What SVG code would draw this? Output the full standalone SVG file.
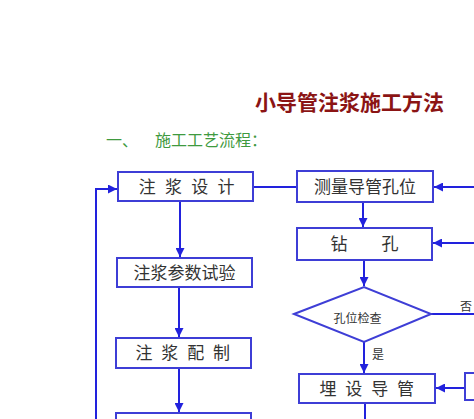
<svg xmlns="http://www.w3.org/2000/svg" width="474" height="419" viewBox="0 0 474 419">
<defs>
<style>
.box{fill:#fff;stroke:#3e3ed6;stroke-width:2}
.ln{fill:none;stroke:#2222dd;stroke-width:2}
.t{font-family:"Noto Sans CJK SC","Noto Sans",sans-serif;font-size:17px;fill:#333;text-anchor:middle}
.s{font-family:"Noto Sans CJK SC","Noto Sans",sans-serif;font-size:12px;fill:#333}
</style>
<marker id="ah" viewBox="0 0 10 10" refX="10" refY="5" markerWidth="4.5" markerHeight="4.5" orient="auto" markerUnits="strokeWidth">
<path d="M0,0 L10,5 L0,10 z" fill="#2222dd"/>
</marker>
</defs>
<rect width="474" height="419" fill="#fff"/>
<text x="255" y="110" font-family="'Noto Sans CJK SC',sans-serif" font-size="21" font-weight="bold" fill="#8b1414">小导管注浆施工方法</text>
<text x="106" y="146" font-family="'Noto Sans CJK SC',sans-serif" font-size="16" fill="#3f9a3f">一、</text>
<text x="155" y="146" font-family="'Noto Sans CJK SC',sans-serif" font-size="16" fill="#3f9a3f">施工工艺流程：</text>
<g id="connectors">
<line class="ln" x1="253" y1="187" x2="297" y2="187"/>
<line class="ln" x1="474" y1="187" x2="434" y2="187" marker-end="url(#ah)"/>
<line class="ln" x1="180" y1="201" x2="180" y2="257" marker-end="url(#ah)"/>
<line class="ln" x1="179" y1="287" x2="179" y2="337" marker-end="url(#ah)"/>
<line class="ln" x1="179" y1="368" x2="179" y2="412" marker-end="url(#ah)"/>
<polyline class="ln" points="96,419 96,189 117,189" marker-end="url(#ah)"/>
<line class="ln" x1="363" y1="202" x2="363" y2="227" marker-end="url(#ah)"/>
<line class="ln" x1="474" y1="243" x2="433" y2="243" marker-end="url(#ah)"/>
<line class="ln" x1="364" y1="260" x2="364" y2="286" marker-end="url(#ah)"/>
<line class="ln" x1="431" y1="314" x2="474" y2="314"/>
<line class="ln" x1="364" y1="342" x2="364" y2="373" marker-end="url(#ah)"/>
<line class="ln" x1="465" y1="388" x2="436" y2="388" marker-end="url(#ah)"/>
<line class="ln" x1="365" y1="403" x2="365" y2="419"/>
<text class="s" x="460" y="311">否</text>
<text class="s" x="372" y="359">是</text>
</g>
<g id="n1"><rect class="box" x="118" y="172" width="135" height="29"/><text class="t" x="188" y="192.5" letter-spacing="2.75">注 浆 设 计</text></g>
<g id="n2"><rect class="box" x="297" y="171" width="136" height="31"/><text class="t" x="365" y="192.5">测量导管孔位</text></g>
<g id="n3"><rect class="box" x="117" y="258" width="135" height="29"/><text class="t" x="184.5" y="278.5">注浆参数试验</text></g>
<g id="n4"><rect class="box" x="297" y="228" width="135" height="32"/><text class="t" x="372" y="250" letter-spacing="15">钻 孔</text></g>
<g id="n5"><polygon class="box" points="294,314 364,287 431,314 364,342"/><text class="s" x="357.5" y="322.5" text-anchor="middle">孔位检查</text></g>
<g id="n6"><rect class="box" x="116" y="338" width="135" height="30"/><text class="t" x="184" y="359" letter-spacing="2.5">注 浆 配 制</text></g>
<g id="n7"><rect class="box" x="299" y="374" width="136" height="29"/><text class="t" x="368" y="394.5" letter-spacing="2.5">埋 设 导 管</text></g>
<g id="n8"><rect class="box" x="465" y="373" width="20" height="27"/></g>
<g id="n9"><rect class="box" x="116" y="413" width="135" height="20"/></g>
</svg>
